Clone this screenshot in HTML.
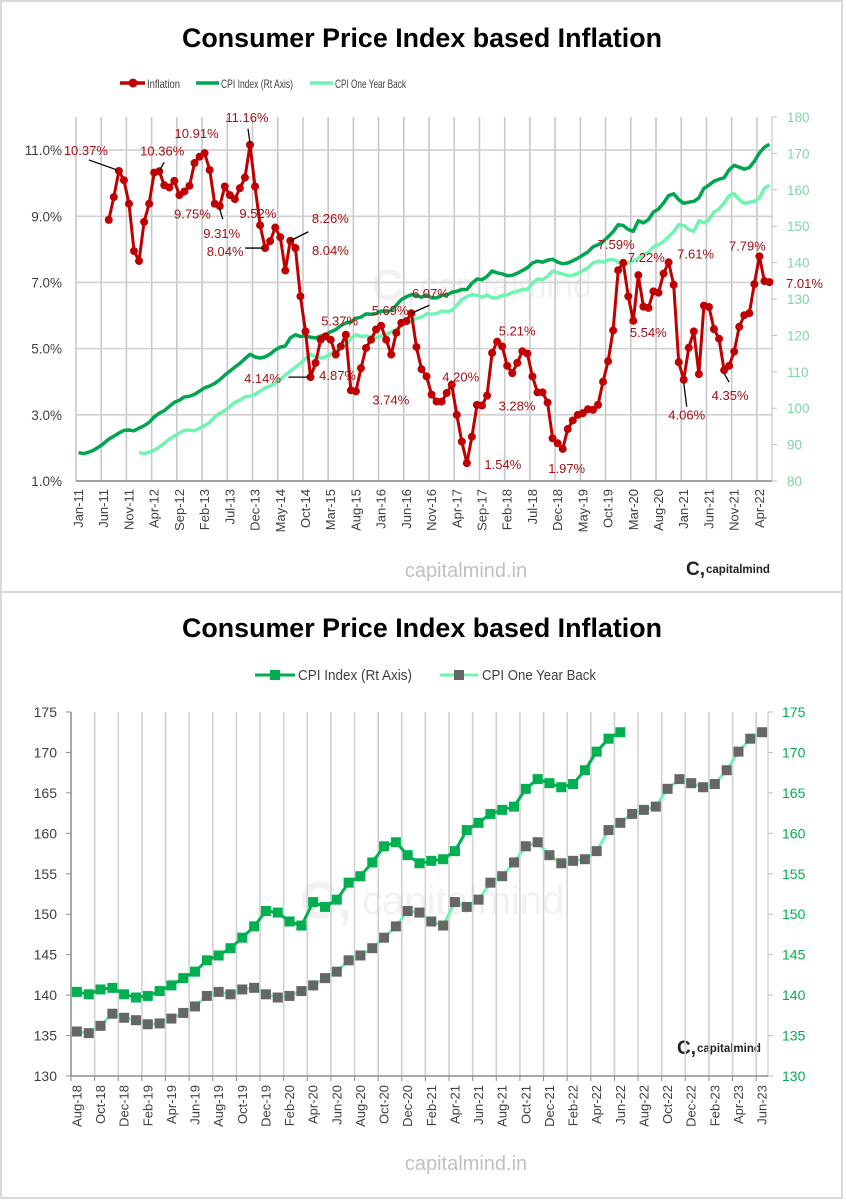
<!DOCTYPE html>
<html><head><meta charset="utf-8"><style>
html,body{margin:0;padding:0;background:#fff;}
svg{display:block;font-family:"Liberation Sans",sans-serif;}
</style></head><body>
<svg id="c" width="846" height="1200" viewBox="0 0 846 1200" xmlns="http://www.w3.org/2000/svg">
<rect x="1" y="1" width="841" height="1197" fill="#fff" stroke="#d9d9d9" stroke-width="2"/>
<line x1="1" y1="592" x2="842" y2="592" stroke="#d9d9d9" stroke-width="2"/>
<text x="422" y="47" text-anchor="middle" font-size="27" font-weight="bold" textLength="480" lengthAdjust="spacingAndGlyphs">Consumer Price Index based Inflation</text>
<text x="422" y="637" text-anchor="middle" font-size="27" font-weight="bold" textLength="480" lengthAdjust="spacingAndGlyphs">Consumer Price Index based Inflation</text>
<g font-size="12" fill="#404040">
 <g><line x1="120" y1="83" x2="145" y2="83" stroke="#c00000" stroke-width="3.5"/><circle cx="133" cy="83" r="4.5" fill="#c00000"/><text x="147" y="88" textLength="33" lengthAdjust="spacingAndGlyphs">Inflation</text></g>
 <g><line x1="196" y1="83" x2="219" y2="83" stroke="#00a550" stroke-width="3.5"/><text x="221" y="88" textLength="72" lengthAdjust="spacingAndGlyphs">CPI Index (Rt Axis)</text></g>
 <g><line x1="310" y1="83" x2="333" y2="83" stroke="#70f5b0" stroke-width="3.5"/><text x="335" y="88" textLength="71" lengthAdjust="spacingAndGlyphs">CPI One Year Back</text></g>
</g>
<g font-size="15" fill="#404040">
 <g><line x1="255" y1="675" x2="295" y2="675" stroke="#00b050" stroke-width="3"/><rect x="270" y="670" width="10" height="10" fill="#00b050"/><text x="298" y="680" textLength="114" lengthAdjust="spacingAndGlyphs">CPI Index (Rt Axis)</text></g>
 <g><line x1="440" y1="675" x2="478" y2="675" stroke="#70f5b0" stroke-width="3"/><rect x="454" y="670" width="10" height="10" fill="#666"/><text x="482" y="680" textLength="114" lengthAdjust="spacingAndGlyphs">CPI One Year Back</text></g>
</g>
<g opacity="0.05"><text x="372" y="300" font-size="44" font-weight="bold">C,</text><text x="420" y="297" font-size="34">capitalmind</text></g>
<g opacity="0.05"><text x="300" y="918" font-size="52" font-weight="bold">C,</text><text x="362" y="914" font-size="40">capitalmind</text></g>
<text x="466" y="577" text-anchor="middle" font-size="20" fill="#c0c0c0">capitalmind.in</text>
<text x="466" y="1170" text-anchor="middle" font-size="20" fill="#c0c0c0">capitalmind.in</text>
<g fill="#222"><text x="686" y="575" font-size="19" font-weight="bold">C,</text><text x="706" y="573" font-size="11.5" font-weight="bold">capitalmind</text></g>
<g fill="#222"><text x="677" y="1054" font-size="19" font-weight="bold">C,</text><text x="697" y="1052" font-size="11.5" font-weight="bold">capitalmind</text></g>
<g id="topchart"></g>
<g id="bot"></g>
</svg>
<script>
// ---------- TOP CHART DATA ----------
const topMonths = ["Jan-11","Jun-11","Nov-11","Apr-12","Sep-12","Feb-13","Jul-13","Dec-13","May-14","Oct-14","Mar-15","Aug-15","Jan-16","Jun-16","Nov-16","Apr-17","Sep-17","Feb-18","Jul-18","Dec-18","May-19","Oct-19","Mar-20","Aug-20","Jan-21","Jun-21","Nov-21","Apr-22"];
const topMonthCount = 138;
const inflation = [null,null,null,null,null,null,
8.89,9.58,10.37,10.09,9.38,7.95,7.65,8.83,9.38,10.32,10.36,9.94,9.87,10.07,9.64,9.75,9.92,10.61,10.8,10.91,10.4,9.38,9.31,9.9,9.64,9.52,9.85,10.17,11.16,9.9,8.73,8.04,
8.25,8.66,8.37,7.36,8.26,8.04,6.58,5.52,4.14,4.57,5.27,5.37,5.27,4.82,5.07,5.42,3.74,3.71,4.41,5.02,5.27,5.58,5.69,5.27,4.82,5.48,5.78,5.83,6.07,5.05,4.38,4.16,3.61,3.4,3.4,3.66,3.91,3.0,2.19,
1.54,2.34,3.3,3.28,3.58,4.87,5.21,5.07,4.48,4.26,4.57,4.92,4.85,4.16,3.68,3.68,3.37,2.29,2.14,1.97,2.57,2.83,3.0,3.05,3.17,3.15,3.3,4.0,4.62,5.55,7.37,
7.59,6.58,5.84,7.22,6.27,6.23,6.73,6.69,7.27,7.61,6.93,4.59,4.06,5.03,5.52,4.23,6.3,6.26,5.59,5.3,4.35,4.48,4.91,5.66,6.01,6.07,6.95,7.79,7.04,7.01];
const cpiIndex = [87.8,87.5,87.9,88.5,89.3,90.3,91.5,92.3,93.2,93.9,94.0,93.8,
94.5,95.2,96.1,97.6,98.6,99.3,100.5,101.6,102.2,103.1,103.3,103.8,
104.7,105.6,106.1,106.8,107.8,109.1,110.2,111.3,112.3,113.6,114.8,114.1,
113.8,114.1,114.9,116.0,116.8,117.1,119.3,120.2,119.7,119.9,119.5,119.3,
119.8,120.2,121.0,121.6,122.7,123.4,123.7,124.7,125.0,125.9,125.8,126.0,
126.7,126.5,126.8,128.3,129.8,130.6,131.2,131.0,130.5,131.1,130.3,130.3,
131.0,131.1,131.8,132.1,132.6,132.6,134.3,
135.5,135.3,136.2,137.7,137.2,136.9,136.4,136.5,137.1,137.8,138.6,139.9,
140.4,140.1,140.7,140.9,140.1,139.7,139.9,140.5,141.2,142.1,142.9,144.3,144.9,145.8,147.1,148.5,150.4,150.2,149.1,148.6,151.5,150.9,151.8,153.9,154.7,156.4,158.4,158.9,157.3,156.3,156.6,156.8,157.8,160.4,161.3,162.4,162.9,163.3,165.5,166.7,166.2,165.7,166.1,167.8,170.1,171.7,172.5];
const cpiBack = [null,null,null,null,null,null,null,null,null,null,null,null,
87.8,87.5,87.9,88.5,89.3,90.3,91.5,92.3,93.2,93.9,94.0,93.8,
94.5,95.2,96.1,97.6,98.6,99.3,100.5,101.6,102.2,103.1,103.3,103.8,
104.7,105.6,106.1,106.8,107.8,109.1,110.2,111.3,112.3,113.6,114.8,114.1,
113.8,114.1,114.9,116.0,116.8,117.1,119.3,120.2,119.7,119.9,119.5,119.3,
119.8,120.2,121.0,121.6,122.7,123.4,123.7,124.7,125.0,125.9,125.8,126.0,
126.7,126.5,126.8,128.3,129.8,130.6,131.2,131.0,130.5,131.1,130.3,130.3,
131.0,131.1,131.8,132.1,132.6,132.6,134.3,
135.5,135.3,136.2,137.7,137.2,136.9,136.4,136.5,137.1,137.8,138.6,139.9,
140.4,140.1,140.7,140.9,140.1,139.7,139.9,140.5,141.2,142.1,142.9,144.3,144.9,145.8,147.1,148.5,150.4,150.2,149.1,148.6,151.5,150.9,151.8,153.9,154.7,156.4,158.4,158.9,157.3,156.3,156.6,156.8,157.8,160.4,161.3];
const leftTicks = ["1.0%","3.0%","5.0%","7.0%","9.0%","11.0%"];
const leftTickValues = [1,3,5,7,9,11];
const rightTicks = [80,90,100,110,120,130,140,150,160,170,180];
// annotations: [text, monthIndex, dx, dy]
const annotations = [["10.37%",8,-33,-16],["10.36%",16,3,-16],["10.91%",25,-8,-15],["11.16%",34,-3,-23],["9.75%",21,8,27],["9.31%",28,2,32],["9.52%",31,23,19],["8.04%",37,-40,8],["8.26%",42,40,-18],["8.04%",43,35,7],["5.37%",49,14,-11],["5.69%",60,9,-11],["6.07%",66,19,-15],["4.14%",46,-48,6],["4.87%",47,22,17],["3.74%",54,40,14],["4.20%",74,9,-3],["5.21%",83,20,-6],["3.28%",80,35,5],["1.54%",77,36,6],["1.97%",96,4,24],["7.59%",108,-7,-14],["7.22%",111,8,-13],["5.54%",110,15,16],["7.61%",117,27,-4],["7.79%",135,-12,-6],["7.01%",137,35,6],["4.06%",120,3,40],["4.35%",128,6,30]];
const leaders = [[8,-2,-1,-30,-11],[16,1,-2,5,-9],[28,0,3,3,13],[34,0,-2,-2,-16],[37,-2,0,-20,0],[42,0,0,18,-9],[46,-2,0,-22,0],[66,0,0,18,-8],[120,0,3,3,27],[128,0,3,5,12]];

// ---------- BOTTOM CHART DATA ----------
const botLabels = ["Aug-18","Oct-18","Dec-18","Feb-19","Apr-19","Jun-19","Aug-19","Oct-19","Dec-19","Feb-20","Apr-20","Jun-20","Aug-20","Oct-20","Dec-20","Feb-21","Apr-21","Jun-21","Aug-21","Oct-21","Dec-21","Feb-22","Apr-22","Jun-22","Aug-22","Oct-22","Dec-22","Feb-23","Apr-23","Jun-23"];
const botMonthCount = 59;
const botCpi = [140.4,140.1,140.7,140.9,140.1,139.7,139.9,140.5,141.2,142.1,142.9,144.3,144.9,145.8,147.1,148.5,150.4,150.2,149.1,148.6,151.5,150.9,151.8,153.9,154.7,156.4,158.4,158.9,157.3,156.3,156.6,156.8,157.8,160.4,161.3,162.4,162.9,163.3,165.5,166.7,166.2,165.7,166.1,167.8,170.1,171.7,172.5];
const botBack = [135.5,135.3,136.2,137.7,137.2,136.9,136.4,136.5,137.1,137.8,138.6,139.9,
140.4,140.1,140.7,140.9,140.1,139.7,139.9,140.5,141.2,142.1,142.9,144.3,144.9,145.8,147.1,148.5,150.4,150.2,149.1,148.6,151.5,150.9,151.8,153.9,154.7,156.4,158.4,158.9,157.3,156.3,156.6,156.8,157.8,160.4,161.3,162.4,162.9,163.3,165.5,166.7,166.2,165.7,166.1,167.8,170.1,171.7,172.5];
const botTicks = [130,135,140,145,150,155,160,165,170,175];

const NS="http://www.w3.org/2000/svg";
function mk(parent,tag,attrs,txt){const e=document.createElementNS(NS,tag);for(const k in attrs)e.setAttribute(k,attrs[k]);if(txt!==undefined)e.textContent=txt;parent.appendChild(e);return e;}

// ---------- TOP AXES ----------
const T={x0:76,x1:772,y0:117,y1:481};
const tStep=(T.x1-T.x0)/topMonthCount;
function xT(i){return T.x0+(i+0.5)*tStep;}
function yL(v){return T.y1-(v-1)*(T.y1-T.y0)/11;}
function yR(v){return T.y1-(v-80)*(T.y1-T.y0)/100;}
const topG=document.getElementById('topchart');
for(let k=0;k<=topMonthCount;k+=5){
  const gx=T.x0+k*tStep;
  const g=mk(topG,'line',{x1:gx,y1:T.y0,x2:gx,y2:T.y1,stroke:'#c8c8c8','stroke-width':1.6});
  
  
}
leftTickValues.forEach((v,j)=>{
  const y=yL(v);
  const g=mk(topG,'line',{x1:T.x0,y1:y,x2:T.x1,y2:y,stroke:'#d0d0d0','stroke-width':1.6});
  
  
  const t=mk(topG,'text',{x:62,y:y+5,'text-anchor':'end','font-size':13.5,fill:'#404040'},leftTicks[j]);
  
  
});
rightTicks.forEach(v=>{
  const y=yR(v);
  const tk=mk(topG,'line',{x1:T.x1,y1:y,x2:T.x1+5,y2:y,stroke:'#bfbfbf','stroke-width':1});
  
  
  const t=mk(topG,'text',{x:787,y:y+5,'font-size':13.5,fill:'#7ed6a0'},String(v));
  
  
});
const ta=mk(topG,'line',{x1:T.x0,y1:T.y1,x2:T.x1,y2:T.y1,stroke:'#8c8c8c','stroke-width':1.5});


const tra=mk(topG,'line',{x1:T.x1,y1:T.y0,x2:T.x1,y2:T.y1,stroke:'#bfbfbf','stroke-width':1});


topMonths.forEach((m,j)=>{
  const x=xT(j*5);
  const t=mk(topG,'text',{x:0,y:0,'text-anchor':'end','font-size':13,fill:'#404040',transform:`translate(${x+4.5},489) rotate(-90)`},m);
  
  
});
function pathOf(arr,xf,yf){let d='',pen=false;arr.forEach((v,i)=>{if(v===null||v===undefined){pen=false;return;}d+=(pen?'L':'M')+xf(i).toFixed(1)+','+yf(v).toFixed(1);pen=true;});return d;}
const pb=mk(topG,'path',{d:pathOf(cpiBack,xT,yR),fill:'none',stroke:'#70f5b0','stroke-width':3.5,'stroke-linejoin':'round'});


const pc=mk(topG,'path',{d:pathOf(cpiIndex,xT,yR),fill:'none',stroke:'#00a550','stroke-width':3.5,'stroke-linejoin':'round'});


const pi=mk(topG,'path',{d:pathOf(inflation,xT,yL),fill:'none',stroke:'#c00000','stroke-width':3,'stroke-linejoin':'round'});


inflation.forEach((v,i)=>{
  if(v===null)return;
  const c=mk(topG,'circle',{cx:xT(i),cy:yL(v),r:4,fill:'#c00000'});
  
  
});
leaders.forEach(L=>{
  const x=xT(L[0]),y=yL(inflation[L[0]]);
  const l=mk(topG,'line',{x1:x+L[1],y1:y+L[2],x2:x+L[3],y2:y+L[4],stroke:'#000','stroke-width':1.3});
  
  
});
annotations.forEach(A=>{
  const x=xT(A[1])+A[2],y=yL(inflation[A[1]])+A[3];
  const t=mk(topG,'text',{x:x,y:y,'text-anchor':'middle','font-size':13,fill:'#a50f15'},A[0]);
  
  
});

// ---------- BOTTOM AXES ----------
const B={x0:71,x1:768,y0:712,y1:1076};
const bStep=(B.x1-B.x0)/botMonthCount;
function xB(i){return B.x0+(i+0.5)*bStep;}
function yB(v){return B.y1-(v-130)*(B.y1-B.y0)/45;}
const bot=document.getElementById('bot');
for(let k=2;k<botMonthCount;k+=2){
  const gx=B.x0+k*bStep;
  const g=mk(bot,'line',{x1:gx,y1:B.y0,x2:gx,y2:B.y1,stroke:'#d0d0d0','stroke-width':1.6});
  
  
}
for(let k=0;k<=botMonthCount;k+=2){
  const gx=B.x0+k*bStep;
  const g=mk(bot,'line',{x1:gx,y1:B.y1,x2:gx,y2:B.y1+5,stroke:'#8c8c8c','stroke-width':1});
  
  
}
botTicks.forEach(v=>{
  const y=yB(v);
  const tk=mk(bot,'line',{x1:B.x0-5,y1:y,x2:B.x0,y2:y,stroke:'#8c8c8c','stroke-width':1});
  
  
  const t=mk(bot,'text',{x:57,y:y+5,'text-anchor':'end','font-size':14,fill:'#404040'},String(v));
  
  
  const tk2=mk(bot,'line',{x1:B.x1,y1:y,x2:B.x1+5,y2:y,stroke:'#bfbfbf','stroke-width':1});
  
  
  const t2=mk(bot,'text',{x:782,y:y+5,'font-size':14,fill:'#00b050'},String(v));
  
  
});
const bl=mk(bot,'line',{x1:B.x0,y1:B.y0,x2:B.x0,y2:B.y1,stroke:'#8c8c8c','stroke-width':1.5});


const br=mk(bot,'line',{x1:B.x1,y1:B.y0,x2:B.x1,y2:B.y1,stroke:'#bfbfbf','stroke-width':1});


const bx=mk(bot,'line',{x1:B.x0,y1:B.y1,x2:B.x1,y2:B.y1,stroke:'#8c8c8c','stroke-width':1.5});


botLabels.forEach((m,j)=>{
  const x=xB(j*2);
  const t=mk(bot,'text',{x:0,y:0,'text-anchor':'end','font-size':13,fill:'#404040',transform:`translate(${x+4.5},1085) rotate(-90)`},m);
  
  
});
const bbl=mk(bot,'path',{d:pathOf(botBack,xB,yB),fill:'none',stroke:'#70f5b0','stroke-width':3});


botBack.forEach((v,i)=>{
  const r=mk(bot,'rect',{x:xB(i)-5,y:yB(v)-5,width:10,height:10,fill:'#666'});
  
  
});
const bcl=mk(bot,'path',{d:pathOf(botCpi,xB,yB),fill:'none',stroke:'#00b050','stroke-width':3});


botCpi.forEach((v,i)=>{
  const r=mk(bot,'rect',{x:xB(i)-5,y:yB(v)-5,width:10,height:10,fill:'#00b050'});
  
  
});
</script>
</body></html>
